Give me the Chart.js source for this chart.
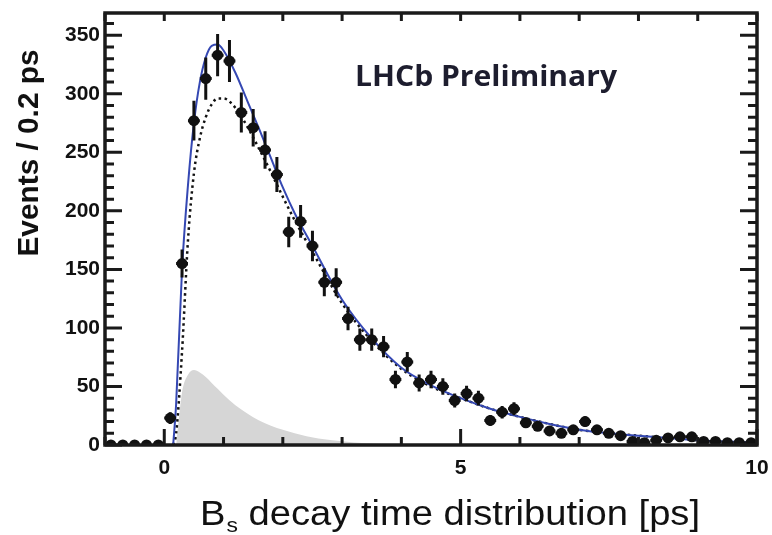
<!DOCTYPE html>
<html>
<head>
<meta charset="utf-8">
<script src="https://cdn.jsdelivr.net/npm/chart.js@4/dist/chart.umd.min.js"></script>
<style>
  html, body { margin: 0; padding: 0; background: #fff; }
  canvas { display: block; }
</style>
</head>
<body>
<canvas id="chart" width="772" height="535"></canvas>
<script>
// Measured events per 0.2 ps bin (bin centres in ps)
const binCenters = [-0.9, -0.7, -0.5, -0.3, -0.1, 0.1, 0.3, 0.5, 0.7, 0.9,
    1.1, 1.3, 1.5, 1.7, 1.9, 2.1, 2.3, 2.5, 2.7, 2.9,
    3.1, 3.3, 3.5, 3.7, 3.9, 4.1, 4.3, 4.5, 4.7, 4.9,
    5.1, 5.3, 5.5, 5.7, 5.9, 6.1, 6.3, 6.5, 6.7, 6.9,
    7.1, 7.3, 7.5, 7.7, 7.9, 8.1, 8.3, 8.5, 8.7, 8.9,
    9.1, 9.3, 9.5, 9.7, 9.9];
const events = [0, 0, 0, 0, 0, 23, 155, 277, 313, 333,
    328, 284, 271, 252, 231, 182, 191, 170, 139, 139,
    108, 90, 90, 84, 56, 71, 53, 56, 50, 38,
    44, 40, 21, 28, 31, 19, 16, 12, 10, 13,
    20, 13, 10, 8, 3, 2, 4, 6, 7, 7,
    3, 3, 2, 2, 2];
const eventErrors = [0, 0, 0, 0, 0, 5, 12, 17, 18, 18,
    18, 17, 16, 16, 15, 13, 14, 13, 12, 12,
    10, 9.5, 9.5, 9, 7.5, 8.4, 7.3, 7.5, 7, 6,
    6.6, 6.3, 4.6, 5.3, 5.6, 4.4, 4, 3.5, 3.2, 3.6,
    4.5, 3.6, 3.2, 2.8, 1.7, 1.4, 2, 2.4, 2.6, 2.6,
    1.7, 1.7, 1.4, 1.4, 1.4];

// Fit curves: total (blue) and signal (dotted)
const fitTime = [0.15, 0.2, 0.3, 0.4, 0.5, 0.6, 0.7, 0.8, 0.9, 1.0,
    1.2, 1.4, 1.6, 1.8, 2.0, 2.2, 2.5, 3.0, 3.5, 4.0,
    4.5, 5.0, 5.5, 6.0, 6.5, 7.0, 7.5, 8.0, 8.5, 9.0, 9.5, 10.0];
const fitTotal = [0, 35, 150, 222, 275, 310, 331, 341, 342, 337,
    318, 294, 270, 245, 220, 198, 170, 124, 91, 66,
    51, 40, 31, 24, 18, 13, 10, 8, 6, 4, 3, 2];
const fitSignal = [0, 10, 80, 175, 232, 262, 280, 291, 296, 296,
    288, 272, 253, 233, 212, 192, 165, 121, 89, 65,
    50, 40, 31, 24, 18, 13, 10, 8, 6, 4, 3, 2];

// Background component (grey area)
const bkgTime = [0.2, 0.3, 0.4, 0.5, 0.6, 0.7, 0.8, 0.9, 1.0, 1.2,
    1.4, 1.6, 1.8, 2.0, 2.4, 2.8, 3.2, 3.6, 4.0];
const bkgValues = [0, 45, 60, 64, 62, 58, 53, 48, 43, 34,
    27, 21, 16.5, 13, 7.5, 4.2, 2.2, 1, 0.3];

// Axis ticks
const xMajorTicks = [0, 5, 10];
const xTickLabels = ['0', '5', '10'];
const yMajorTicks = [0, 50, 100, 150, 200, 250, 300, 350];
const yTickLabels = ['0', '50', '100', '150', '200', '250', '300', '350'];

const toPoints = (xs, ys) => xs.map((t, i) => ({ x: t, y: ys[i] }));

// Stretch a string horizontally so it spans a given width
function fillFitted(ctx, text, x, y, width, align) {
    const w = ctx.measureText(text).width;
    ctx.save();
    ctx.translate(x, y);
    ctx.scale(width / w, 1);
    ctx.textAlign = align;
    ctx.fillText(text, 0, 0);
    ctx.restore();
}

// Error bars under the data markers
const errorBarPlugin = {
    id: 'errorBars',
    beforeDatasetDraw(chart, args) {
        if (chart.data.datasets[args.index].label !== 'Data') return;
        const { ctx, scales: { x, y } } = chart;
        ctx.save();
        ctx.strokeStyle = '#111';
        ctx.lineWidth = 3;
        binCenters.forEach((t, i) => {
            if (!eventErrors[i]) return;
            const px = x.getPixelForValue(t);
            ctx.beginPath();
            ctx.moveTo(px, y.getPixelForValue(events[i] - eventErrors[i]));
            ctx.lineTo(px, y.getPixelForValue(events[i] + eventErrors[i]));
            ctx.moveTo(x.getPixelForValue(t - 0.1), y.getPixelForValue(events[i]));
            ctx.lineTo(x.getPixelForValue(t + 0.1), y.getPixelForValue(events[i]));
            ctx.stroke();
        });
        ctx.restore();
    }
};

// ROOT-style frame with inward ticks, labels and titles
const framePlugin = {
    id: 'frame',
    afterDraw(chart) {
        const { ctx, chartArea: a, scales: { x, y } } = chart;
        ctx.save();
        ctx.strokeStyle = '#1a1a1a';
        ctx.lineWidth = 3;

        // y ticks on both sides
        ctx.beginPath();
        for (let v = 0; v <= 360; v += 10) {
            const py = y.getPixelForValue(v);
            const len = v % 50 === 0 ? 17 : 9;
            ctx.moveTo(a.left, py); ctx.lineTo(a.left + len, py);
            ctx.moveTo(a.right, py); ctx.lineTo(a.right - len, py);
        }
        // x ticks on bottom and top
        for (let t = -1; t <= 10; t++) {
            const px = x.getPixelForValue(t);
            const len = xMajorTicks.includes(t) ? 16 : 8;
            ctx.moveTo(px, a.bottom); ctx.lineTo(px, a.bottom - len);
            ctx.moveTo(px, a.top); ctx.lineTo(px, a.top + 8);
        }
        ctx.stroke();

        ctx.lineWidth = 3.5;
        ctx.strokeRect(a.left, a.top, a.right - a.left, a.bottom - a.top);

        // tick labels
        ctx.fillStyle = '#111';
        ctx.font = 'bold 21px "Liberation Sans", Arial, sans-serif';
        ctx.textBaseline = 'middle';
        ctx.textAlign = 'right';
        yMajorTicks.forEach((v, i) => ctx.fillText(yTickLabels[i], a.left - 5, y.getPixelForValue(v)));
        ctx.textAlign = 'center';
        xMajorTicks.forEach((t, i) => ctx.fillText(xTickLabels[i], x.getPixelForValue(t), 468));

        // y title
        ctx.save();
        ctx.translate(30, 153);
        ctx.rotate(-Math.PI / 2);
        ctx.font = 'bold 30px "Liberation Sans", Arial, sans-serif';
        fillFitted(ctx, 'Events / 0.2 ps', 0, 0, 207, 'center');
        ctx.restore();

        // x title with subscript
        ctx.textBaseline = 'alphabetic';
        ctx.textAlign = 'left';
        const big = '35px "Liberation Sans", Arial, sans-serif';
        const small = '21px "Liberation Sans", Arial, sans-serif';
        const rest = ' decay time distribution [ps]';
        ctx.font = big;
        const wB = ctx.measureText('B').width;
        const wRest = ctx.measureText(rest).width;
        ctx.font = small;
        const wS = ctx.measureText('s').width;
        const total = wB + wS + 1 + wRest;
        ctx.save();
        ctx.translate(200, 525);
        ctx.scale(500 / total, 1);
        ctx.font = big;
        ctx.fillText('B', 0, 0);
        ctx.font = small;
        ctx.fillText('s', wB + 1, 7);
        ctx.font = big;
        ctx.fillText(rest, wB + wS + 1, 0);
        ctx.restore();

        // experiment label
        ctx.fillStyle = '#1d1d2e';
        ctx.font = 'bold 28px "Open Sans", sans-serif';
        fillFitted(ctx, 'LHCb Preliminary', 355, 86, 262, 'left');
        ctx.restore();
    }
};

new Chart(document.getElementById('chart'), {
    type: 'line',
    data: {
        datasets: [
            {
                label: 'Data',
                data: toPoints(binCenters, events),
                showLine: false,
                pointRadius: 5.5,
                pointBackgroundColor: '#111',
                pointBorderColor: '#111',
                pointBorderWidth: 0,
                order: 0
            },
            {
                label: 'Total fit',
                data: toPoints(fitTime, fitTotal),
                borderColor: '#3548b3',
                borderWidth: 2,
                pointRadius: 0,
                cubicInterpolationMode: 'monotone',
                fill: false,
                order: 1
            },
            {
                label: 'Signal',
                data: toPoints(fitTime, fitSignal),
                borderColor: '#111',
                borderWidth: 2.5,
                borderDash: [2.5, 3.5],
                pointRadius: 0,
                cubicInterpolationMode: 'monotone',
                fill: false,
                order: 2
            },
            {
                label: 'Background',
                data: toPoints(bkgTime, bkgValues),
                borderWidth: 0,
                borderColor: 'rgba(0,0,0,0)',
                backgroundColor: '#d6d6d6',
                pointRadius: 0,
                cubicInterpolationMode: 'monotone',
                fill: 'origin',
                order: 3
            }
        ]
    },
    options: {
        responsive: false,
        animation: false,
        layout: { padding: { left: 105, right: 15, top: 13, bottom: 90 } },
        scales: {
            x: { type: 'linear', min: -1, max: 10, display: false },
            y: { min: 0, max: 369, display: false }
        },
        plugins: {
            legend: { display: false },
            tooltip: { enabled: false }
        }
    },
    plugins: [errorBarPlugin, framePlugin]
});
</script>
</body>
</html>
